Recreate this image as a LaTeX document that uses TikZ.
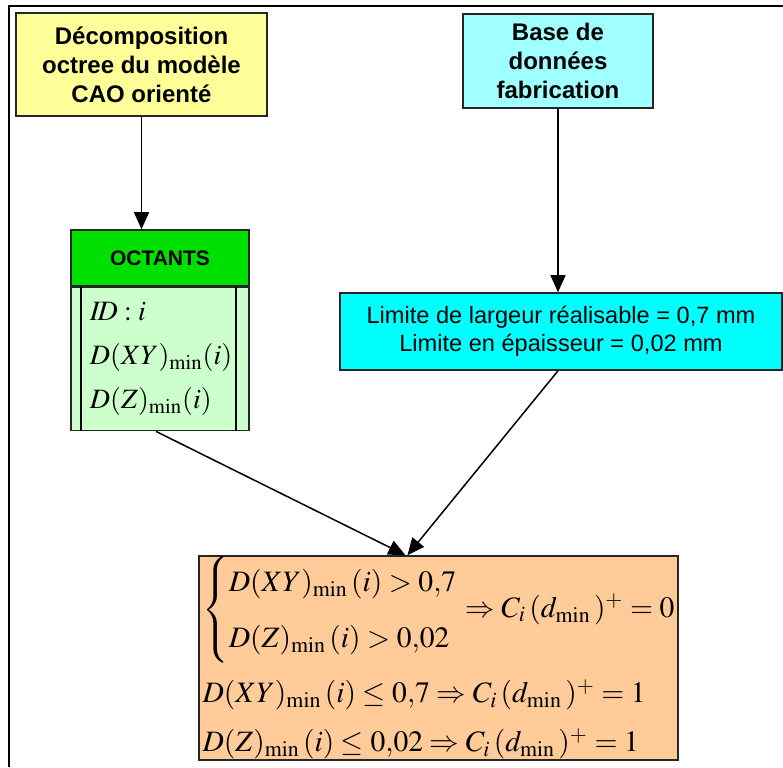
\documentclass[tikz,border=0pt]{standalone}
\usepackage{mathptmx}
\usepackage[no-math]{fontspec}
\newfontfamily\arialfont{Liberation Sans}
\usetikzlibrary{arrows.meta,positioning,calc}
\definecolor{ocYellow}{HTML}{FFFF99}
\definecolor{ocPaleCyan}{HTML}{A0FFFF}
\definecolor{ocCyan}{HTML}{00FFFF}
\definecolor{ocGreen}{HTML}{00E000}
\definecolor{ocPaleGreen}{HTML}{CCFFCC}
\definecolor{ocOrange}{HTML}{FFCC99}
\tikzset{
    block/.style={
        draw=black!85,line width=.8pt,fill=#1,
        align=center,inner sep=0pt,text=black
    },
    block/.default=white,
    title/.style={font=\arialfont\bfseries\fontsize{12}{14.5}\selectfont},
    arrow/.style={
        -{Triangle[length=8.5pt,width=7.5pt]},line width=.75pt,draw=black
    }
}

\begin{document}
\begin{tikzpicture}[x=0.5pt,y=-0.5pt]
\useasboundingbox (0,0) rectangle (783,767);
\draw[line width=.9pt] (9,767) -- (9,6) -- (783,6);

\node[block=ocYellow,title,minimum width=125.5pt,minimum height=51.5pt]
(cao) at (141.5,64.5){Décomposition\\octree du modèle\\CAO orienté};

\node[block=ocPaleCyan,title,minimum width=95pt,minimum height=47pt]
(base) at (558,61){Base de\\données\\fabrication};

\node[block=ocGreen,minimum width=89pt,minimum height=28pt,
font=\arialfont\bfseries\fontsize{10.5}{12}\selectfont]
(head) at (160,258){OCTANTS};

\node[block=ocPaleGreen,below=0pt of head,minimum height=71.5pt,
align=left,text width=70pt,inner xsep=9.5pt,
font=\fontsize{14}{22}\selectfont]
(body){$I\!D : i$\\$D(XY)_{\mathrm{min}}(i)$\\$D(Z)_{\mathrm{min}}(i)$};
\draw[line width=.8pt] ([xshift=5.5pt]body.north west) -- ([xshift=5.5pt]body.south west);
\draw[line width=.8pt] ([xshift=-7pt]body.north east) -- ([xshift=-7pt]body.south east);

\node[block=ocCyan,minimum width=221pt,minimum height=38.5pt,
font=\arialfont\fontsize{11.8}{14}\selectfont]
(lim) at (561,331.5){Limite de largeur réalisable = 0,7 mm\\Limite en épaisseur = 0,02 mm};

\node[block=ocOrange,minimum width=239.5pt,minimum height=102pt,align=left,
font=\fontsize{14.8}{23}\selectfont]
(res) at (438.5,658){%
$\left\{\begin{array}{@{}l@{}}
D(XY)_{\mathrm{min}}\,(i) > 0{,}7\\[5pt]
D(Z)_{\mathrm{min}}\,(i) > 0{,}02
\end{array}\right.\Rightarrow C_i\,(d_{\mathrm{min}}\,)^{+} = 0$\\[7pt]
$D(XY)_{\mathrm{min}}\,(i) \le 0{,}7 \Rightarrow C_i\,(d_{\mathrm{min}}\,)^{+} = 1$\\[1.5pt]
$D(Z)_{\mathrm{min}}\,(i) \le 0{,}02 \Rightarrow C_i\,(d_{\mathrm{min}}\,)^{+} = 1$};

\draw[arrow] (cao.south) -- (cao.south |- head.north);
\draw[arrow] (base.south) -- (base.south |- lim.north);
\draw[arrow] ([xshift=-2pt]body.south) -- ([xshift=-16.5pt]res.north);
\draw[arrow] (base.south |- lim.south) -- ([xshift=-15.5pt]res.north);

\end{tikzpicture}
\end{document}
